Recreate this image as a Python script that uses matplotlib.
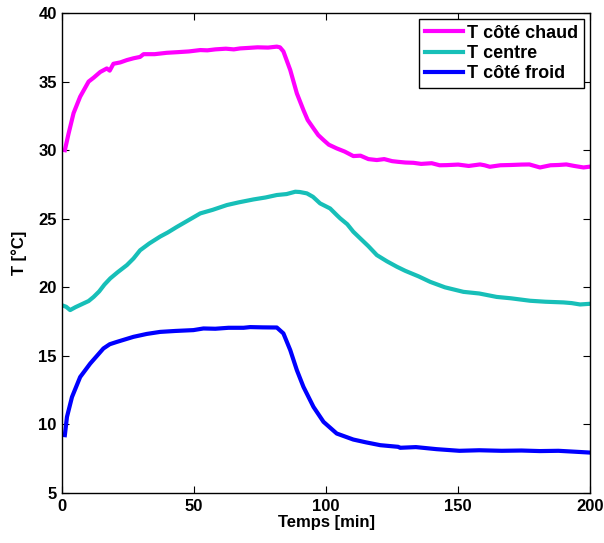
import matplotlib
matplotlib.use("Agg")
import matplotlib.pyplot as plt

plt.rcParams["font.family"] = ["Liberation Sans", "DejaVu Sans"]
plt.rcParams["font.weight"] = "bold"

# Readings
t_chaud = [1, 2.4, 4.3, 6.8, 10, 12, 14.4, 16.9, 18, 19.4, 22, 24.5, 27, 29.5, 30.8,
           35, 39.6, 44, 48, 52.3, 55, 58, 62, 65, 67.4, 70, 74, 78, 81.3, 82.5,
           83.8, 86.4, 88.9, 91.4, 93, 95.2, 97, 99, 101, 104, 107, 110.3, 113, 116,
           119.2, 122, 125, 127.3, 130, 133, 136, 140, 143, 145.7, 150, 154, 158.3,
           160, 162, 166, 170, 174, 177, 181, 185, 188, 191, 194, 197.5, 200]
T_chaud = [30.0, 31.2, 32.7, 33.9, 35.0, 35.3, 35.7, 35.96, 35.8, 36.3, 36.4, 36.57,
           36.7, 36.8, 37.0, 37.0, 37.1, 37.15, 37.2, 37.3, 37.28, 37.35, 37.4, 37.35,
           37.42, 37.45, 37.5, 37.48, 37.55, 37.5, 37.2, 35.84, 34.14, 32.92, 32.2,
           31.59, 31.1, 30.74, 30.4, 30.13, 29.9, 29.57, 29.6, 29.35, 29.28, 29.35,
           29.2, 29.15, 29.1, 29.08, 29.0, 29.05, 28.9, 28.91, 28.95, 28.85, 28.96,
           28.9, 28.79, 28.9, 28.92, 28.95, 28.96, 28.74, 28.9, 28.92, 28.96, 28.85,
           28.74, 28.8]

t_centre = [0.5, 1.5, 3, 5, 8.1, 10, 11.9, 14, 16, 18.2, 21, 24.5, 27, 29.5, 33, 37.1,
            40, 43.4, 47, 52.3, 57, 62.4, 67, 72.5, 77, 81.3, 85, 88.3, 90, 92.7, 95,
            97.7, 101.5, 104, 105.3, 108, 110.3, 112.9, 116, 119.2, 123, 126.8, 130,
            135, 139.4, 145, 152, 158, 164.6, 170, 177.3, 183, 189.9, 193, 196.2, 200]
T_centre = [18.65, 18.58, 18.34, 18.55, 18.83, 19.0, 19.3, 19.7, 20.2, 20.65, 21.1,
            21.62, 22.1, 22.7, 23.2, 23.7, 24.0, 24.4, 24.8, 25.39, 25.65, 26.0, 26.2,
            26.41, 26.55, 26.73, 26.8, 26.97, 26.95, 26.85, 26.6, 26.12, 25.75, 25.27,
            25.03, 24.6, 24.05, 23.57, 23.0, 22.35, 21.9, 21.5, 21.2, 20.8, 20.4, 20.0,
            19.67, 19.55, 19.3, 19.2, 19.02, 18.95, 18.9, 18.85, 18.75, 18.8]

t_froid = [1, 1.8, 3.7, 6.8, 10.6, 15.6, 18, 20.7, 27, 32, 37.1, 43, 49.7, 53.5, 58,
           63, 68.7, 71.2, 76, 81.3, 83.8, 86.4, 88.9, 91.4, 95.2, 99, 104, 110.3, 115,
           120.5, 127.3, 128, 134, 141.8, 150.5, 158, 166.5, 174, 181, 188, 195.5, 200]
T_froid = [9.22, 10.55, 12.0, 13.46, 14.44, 15.54, 15.85, 16.02, 16.39, 16.6, 16.75,
           16.82, 16.88, 17.0, 16.98, 17.05, 17.05, 17.1, 17.08, 17.07, 16.64, 15.42,
           13.96, 12.74, 11.28, 10.19, 9.34, 8.9, 8.7, 8.49, 8.37, 8.3, 8.35, 8.2, 8.08,
           8.12, 8.08, 8.1, 8.06, 8.08, 8.0, 7.95]

x_ticks = [0, 50, 100, 150, 200]
y_ticks = [5, 10, 15, 20, 25, 30, 35, 40]

fig = plt.figure(figsize=(6.04, 5.43), dpi=100)
ax = fig.add_axes([0.103, 0.092, 0.874, 0.884])

ax.plot(t_chaud, T_chaud, color="#ff00ff", linewidth=3, label="T côté chaud")
ax.plot(t_centre, T_centre, color="#17bfb8", linewidth=3, label="T centre")
ax.plot(t_froid, T_froid, color="#0000ff", linewidth=3, label="T côté froid")

ax.set_xlim(0, 200)
ax.set_ylim(5, 40)
ax.set_xticks(x_ticks)
ax.set_yticks(y_ticks)
ax.tick_params(direction="in", top=True, right=True, length=5, width=0.8,
               labelsize=12, pad=4)
for lab in ax.get_xticklabels() + ax.get_yticklabels():
    lab.set_fontweight("bold")
for sp in ax.spines.values():
    sp.set_linewidth(1.0)

ax.set_xlabel("Temps [min]", fontsize=12, fontweight="bold", labelpad=1)
ax.set_ylabel("T [°C]", fontsize=12, fontweight="bold", labelpad=8)

leg = ax.legend(loc="upper right", fontsize=13, fancybox=False, framealpha=1,
                edgecolor="black", borderaxespad=0.35, handlelength=2.1,
                handletextpad=0.25, labelspacing=0.18, borderpad=0.3)
leg.get_frame().set_linewidth(1.0)
for txt in leg.get_texts():
    txt.set_fontweight("bold")

fig.savefig("out.png", dpi=100, facecolor="white")
